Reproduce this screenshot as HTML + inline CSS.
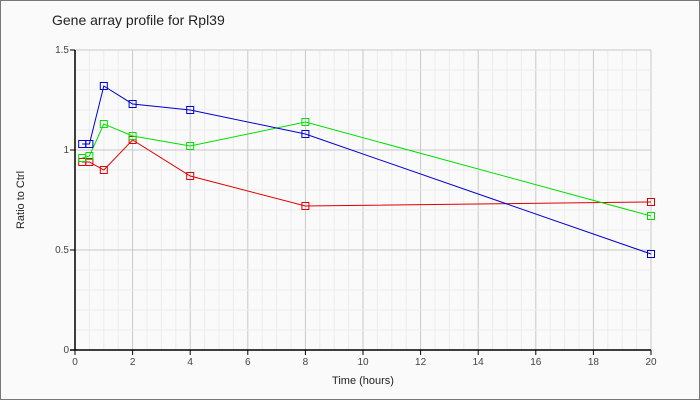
<!DOCTYPE html>
<html><head><meta charset="utf-8"><style>
html,body{margin:0;padding:0;background:#fafafa}
svg{display:block;font-family:"Liberation Sans",sans-serif}
</style></head><body>
<svg id="s" width="700" height="400" xmlns="http://www.w3.org/2000/svg">
<rect x="0.5" y="0.5" width="699" height="399" fill="#fafafa" stroke="#777"/>
<text x="52" y="25" font-size="14" fill="#222">Gene array profile for Rpl39</text>
<g id="grid"></g>
<line x1="75" y1="50" x2="75" y2="350" stroke="#000" stroke-width="1.5"/>
<line x1="70" y1="350" x2="651" y2="350" stroke="#000" stroke-width="1.5"/>
<g id="lab" font-size="10" fill="#444"></g>
<text x="363" y="384" font-size="11" text-anchor="middle" fill="#222">Time (hours)</text>
<text x="24" y="200" font-size="11" text-anchor="middle" fill="#222" transform="rotate(-90 24 200)">Ratio to Ctrl</text>
<g id="ser"></g>
</svg>
<script>
var X=function(t){return 75+t*28.8},Y=function(v){return 350-v*200};
var g=document.getElementById('grid'),h='';
for(var i=1;i<=40;i++){var x=X(i*0.5);h+='<line x1="'+x+'" y1="50" x2="'+x+'" y2="350" stroke="'+(i%4==0?'#c8c8c8':'#ececec')+'"/>';}
for(var j=1;j<=15;j++){var y=Y(j*0.1);h+='<line x1="75" y1="'+y+'" x2="651" y2="'+y+'" stroke="'+(j%5==0?'#c8c8c8':'#ececec')+'"/>';}
g.innerHTML=h;
var l='';
for(var t=0;t<=20;t+=2){l+='<line x1="'+X(t)+'" y1="350" x2="'+X(t)+'" y2="355" stroke="#000"/><text x="'+X(t)+'" y="365" text-anchor="middle">'+t+'</text>';}
[['0',0],['0.5',0.5],['1',1],['1.5',1.5]].forEach(function(a){l+='<line x1="70" y1="'+Y(a[1])+'" x2="75" y2="'+Y(a[1])+'" stroke="#000"/><text x="69" y="'+(Y(a[1])+3)+'" text-anchor="end">'+a[0]+'</text>';});
document.getElementById('lab').innerHTML=l;
var T=[0.25,0.5,1,2,4,8,20];
var S=[['#e00000',[0.94,0.94,0.90,1.05,0.87,0.72,0.74]],['#00e000',[0.96,0.97,1.13,1.07,1.02,1.14,0.67]],['#0000d0',[1.03,1.03,1.32,1.23,1.20,1.08,0.48]]];
var s='';
S.forEach(function(a){var p=T.map(function(t,i){return X(t)+','+Y(a[1][i])}).join(' ');
s+='<polyline points="'+p+'" fill="none" stroke="'+a[0]+'" stroke-width="1"/>';
T.forEach(function(t,i){s+='<rect x="'+(X(t)-3.5)+'" y="'+(Y(a[1][i])-3.5)+'" width="7" height="7" fill="none" stroke="'+a[0]+'"/>';});});
document.getElementById('ser').innerHTML=s;
</script>
</body></html>
